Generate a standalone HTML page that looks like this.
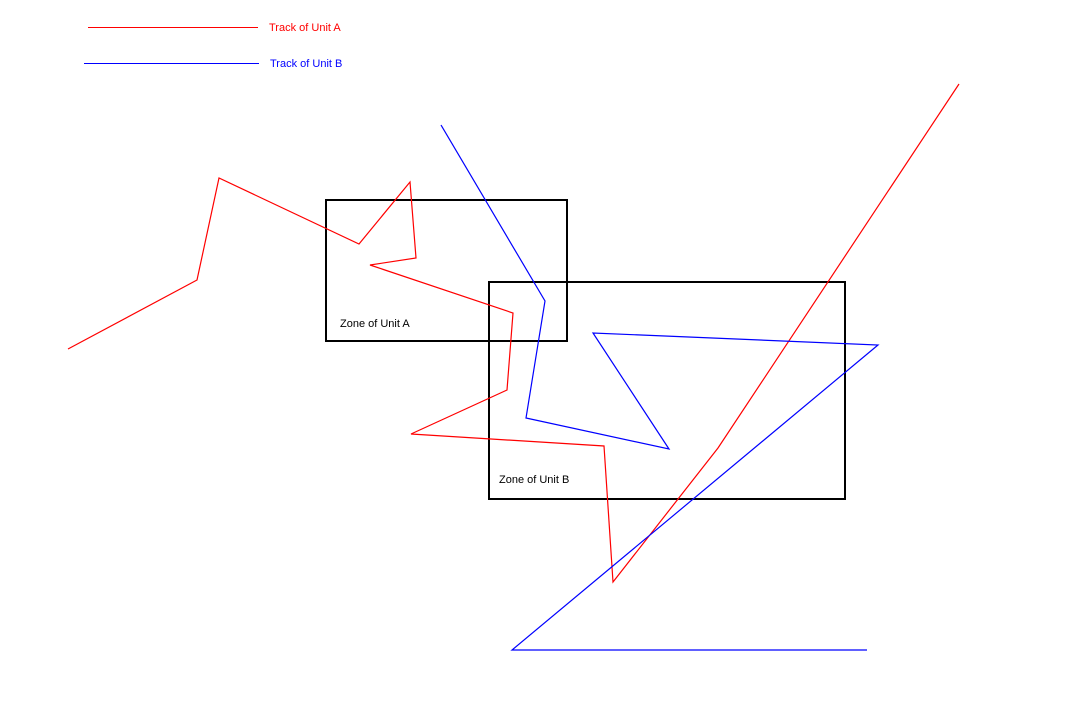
<!DOCTYPE html>
<html><head><meta charset="utf-8"><style>
html,body{margin:0;padding:0;background:#fff;}
svg{display:block;}
text{font-family:"Liberation Sans",sans-serif;font-size:11px;}
</style></head><body>
<svg width="1080" height="720" viewBox="0 0 1080 720" xmlns="http://www.w3.org/2000/svg">
<rect width="1080" height="720" fill="#fff"/>
<rect x="88" y="27" width="170" height="1" fill="#f00" shape-rendering="crispEdges"/>
<text x="269" y="31" fill="#f00">Track of Unit A</text>
<rect x="84" y="63" width="175" height="1" fill="#00f" shape-rendering="crispEdges"/>
<text x="270" y="67" fill="#00f">Track of Unit B</text>
<rect x="326" y="200" width="241" height="141" fill="none" stroke="#000" stroke-width="2"/>
<text x="340" y="327" fill="#000">Zone of Unit A</text>
<rect x="489" y="282" width="356" height="217" fill="none" stroke="#000" stroke-width="2"/>
<text x="499" y="483" fill="#000">Zone of Unit B</text>
<polyline fill="none" stroke="#f00" stroke-width="1.2" points="68,349 197,280 219,178 359,244 410,182 416,258 370,265 513,313 507,390 411,434 604,446 613,582 718,448 959,84"/>
<polyline fill="none" stroke="#00f" stroke-width="1.2" points="441,125 545,301 526,418 669,449 593,333 878,345 512,650 867,650"/>
</svg>
</body></html>
